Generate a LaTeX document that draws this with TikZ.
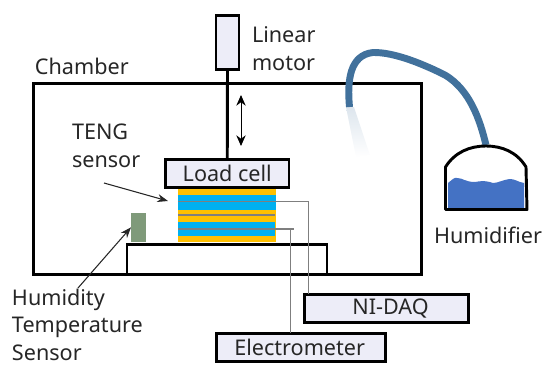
\documentclass[tikz,border=0pt]{standalone}
\usepackage{fontspec}
\setmainfont{Noto Sans}
\usetikzlibrary{arrows.meta,calc}
\definecolor{boxfill}{HTML}{EDEDF8}
\definecolor{layeryellow}{HTML}{FFC000}
\definecolor{layerblue}{HTML}{00B0F0}
\definecolor{wiregrey}{HTML}{7F7F7F}
\definecolor{sensorgreen}{HTML}{7F9A7A}
\definecolor{tubeblue}{HTML}{41719C}
\definecolor{waterblue}{HTML}{4472C4}
\tikzset{
  x=0.75pt,y=-0.75pt,
  every node/.style={inner sep=0pt,outer sep=0pt},
  lbl/.style={font=\fontsize{16.2pt}{20.6pt}\selectfont,text=black!85},
  blk/.style={draw=black,line width=2.2pt},
  labelbox/.style={blk,fill=boxfill,font=\fontsize{16.2pt}{19pt}\selectfont,text=black!85,anchor=center},
  wire/.style={draw=wiregrey,line width=1.3pt},
  leader/.style={draw=black!85,line width=0.8pt,-{Stealth[length=8pt,width=6pt]}},
}
\begin{document}
\begin{tikzpicture}
\useasboundingbox (0,0) rectangle (544,365);
% chamber and base
\node[blk,minimum width=291pt,minimum height=143.3pt,anchor=north west] (chamber) at (33.5,83.5) {};
\node[blk,minimum width=150pt,minimum height=22.5pt,anchor=north west] (base) at (127,244.5) {};
% stack
\fill[layeryellow] (178,189) rectangle (276,242);
\fill[layerblue] (178,195) rectangle (276,209.5);
\fill[layerblue] (178,222) rectangle (275,236);
\fill[wiregrey] (178,214) rectangle (275,216);
\coordinate (top) at (276,201.5);
\coordinate (low) at (293.5,229);
\coordinate (lowleft) at (178,229);
\coordinate (topleft) at (178,201.5);
% instruments
\node[labelbox,minimum width=92.6pt,minimum height=21pt] (load) at (227.25,173.5) {Load cell};
\node[labelbox,minimum width=17.25pt,minimum height=40.5pt] (motor) at (227.5,42.5) {};
\node[labelbox,minimum width=123.5pt,minimum height=21.5pt] (daq) at (386.5,308.5) {\hspace*{6pt}NI-DAQ};
\node[labelbox,minimum width=126.8pt,minimum height=21.5pt] (electro) at (301,347.5) {Electrometer\hspace*{2pt}};
% wires
\draw[wire] (topleft) -- (top) -- (top -| 308.5,0) -- (308.5,0 |- daq.north);
\draw[wire,line width=1.5pt] (lowleft) -- (low);
\draw[wire] (low) ++(-3,0) -- (290.5,0 |- electro.north);
% rod and arrow
\draw[black,line width=2.2pt] (motor.south) -- (load.north);
\coordinate (arU) at (241,95);
\coordinate (arD) at (241,146);
\draw[black,line width=0.7pt,{Stealth[length=8pt,width=7pt]}-{Stealth[length=8pt,width=7pt]}] (arU) -- (arD);
% humidity sensor
\node[fill=sensorgreen,minimum width=11pt,minimum height=21.5pt,anchor=north west] (sensor) at (131,213) {};
% labels
\node[lbl,anchor=west] (lchamber) at (35,66) {Chamber};
\node[lbl,align=left,anchor=north west] (lmotor) at (252,27) {Linear\\motor};
\node[lbl,align=left,anchor=north west] (lteng) at (72,124) {TENG\\sensor};
\node[lbl,align=left,anchor=north west] (lhum) at (12,289) {Humidity\\Temperature\\Sensor};
\node[lbl,anchor=west] (lhumid) at (434,235) {Humidifier};
\coordinate (tengFrom) at (104,183);
\coordinate (tengTo) at (168,201);
\coordinate (humFrom) at (78,288);
\draw[leader] (tengFrom) -- (tengTo);
\draw[leader] (humFrom) -- (sensor.west);
% tube
\shade[top color=tubeblue!18,bottom color=white] (346,107) -- (354,107) -- (370,155) -- (356,157) -- cycle;
\draw[tubeblue,line width=5.2pt] (349.5,107) .. controls (347,80) and (350,55) .. (373,52.5)
  .. controls (395,52) and (425,65) .. (445,75)
  .. controls (470,90) and (480,120) .. (486,145);
% humidifier
\fill[waterblue] (448,183) .. controls (452,180) and (454,177) .. (457,178)
  .. controls (463,178) and (465,182) .. (475,182)
  .. controls (485,180) and (490,182) .. (493,183)
  .. controls (498,183) and (502,180) .. (510,179)
  .. controls (515,179) and (518,182) .. (524,183) -- (524,209) -- (448,209) -- cycle;
\draw[black,line width=2.2pt,line join=round] (445.5,209.5) -- (445.5,167)
  .. controls (455,152) and (470,146) .. (486,146)
  .. controls (502,146) and (517,152) .. (526,167) -- (527,209.5) -- cycle;
\end{tikzpicture}
\end{document}
